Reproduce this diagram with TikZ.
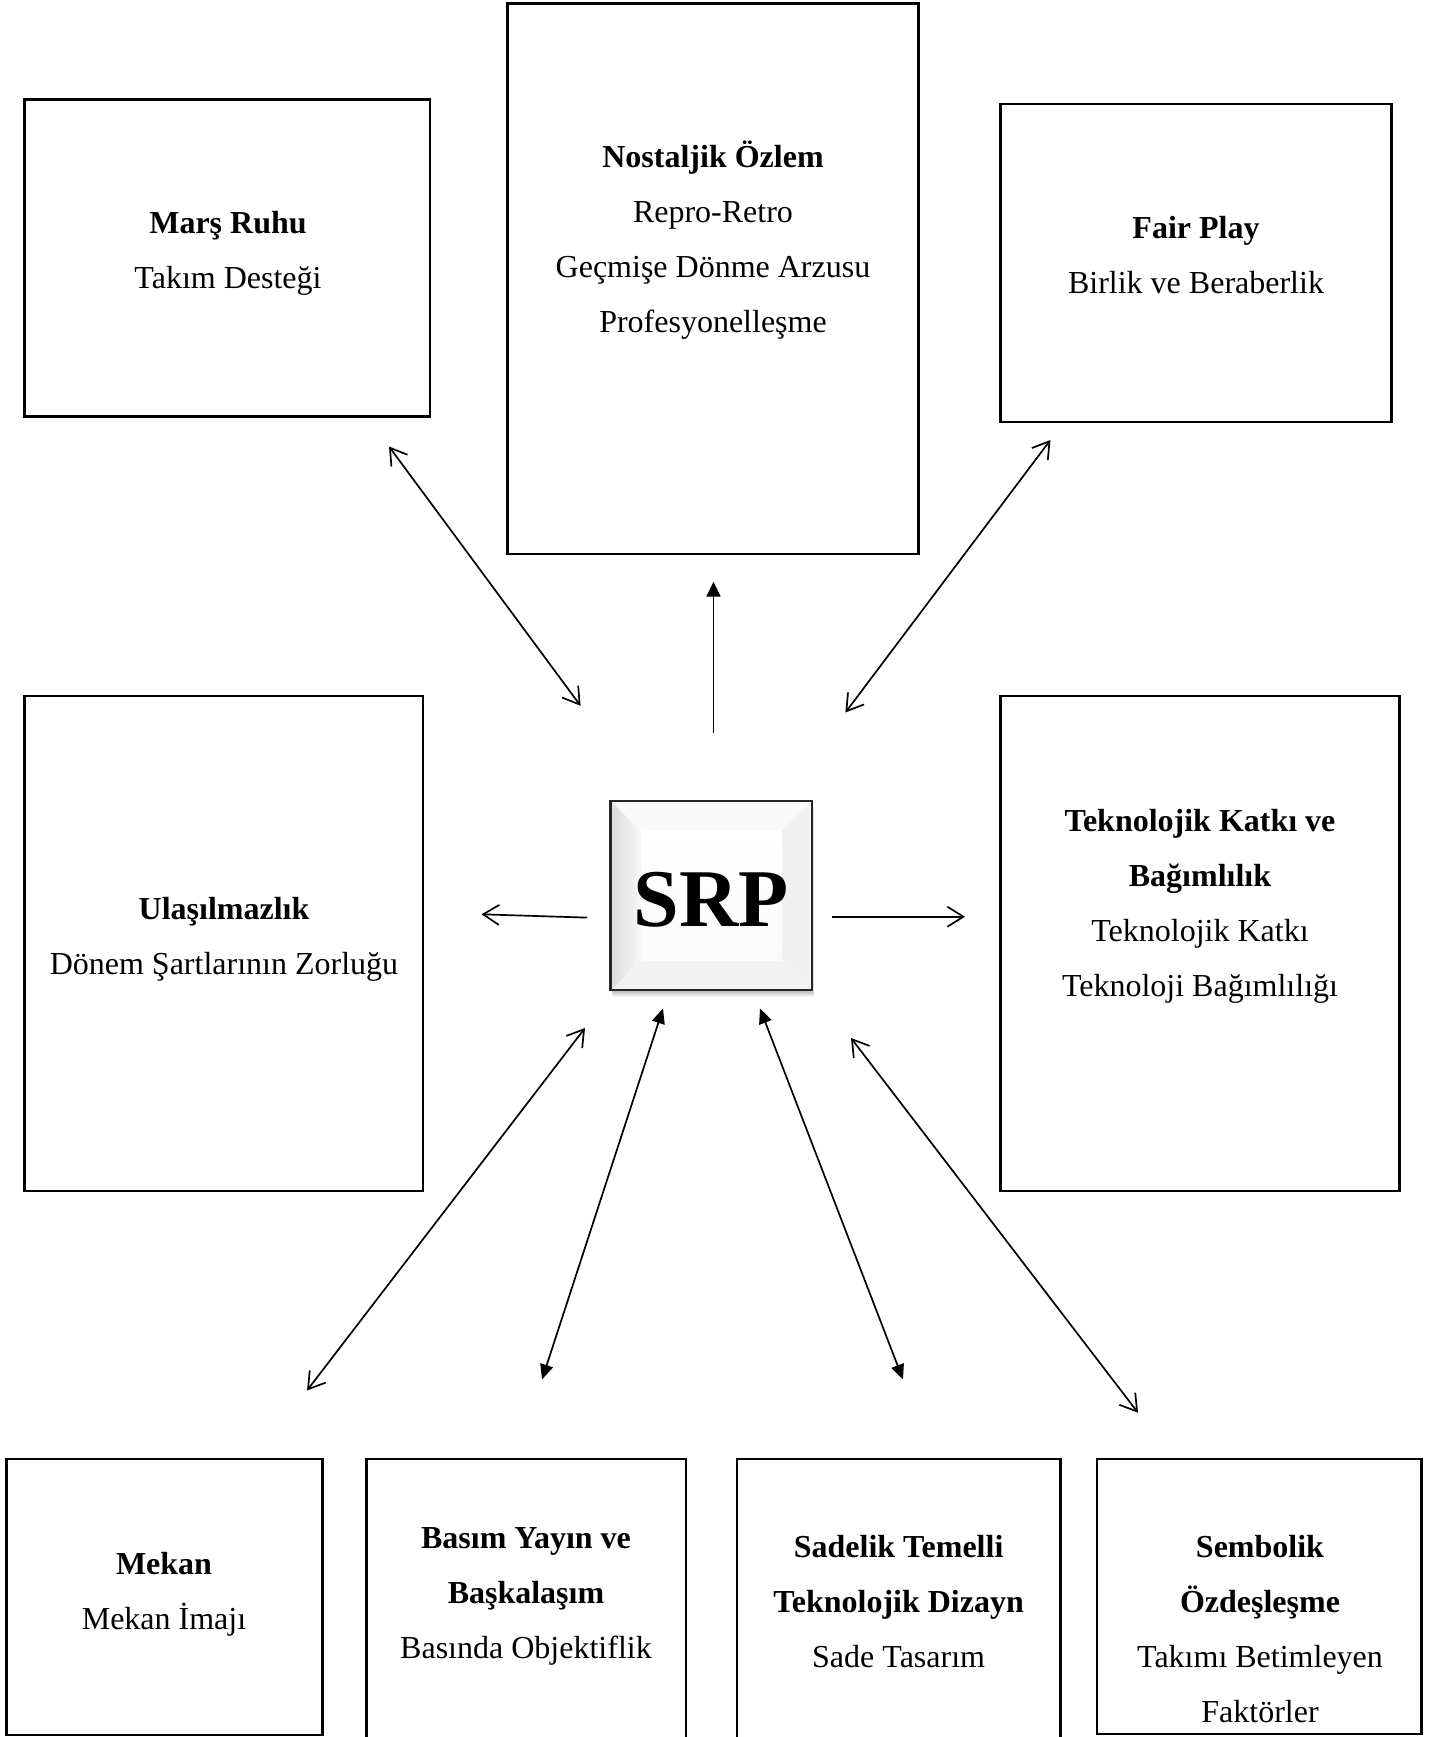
\documentclass[tikz,border=0pt]{standalone}
\usepackage{fontspec}
\setmainfont{Liberation Serif}
\usetikzlibrary{arrows.meta}
\begin{document}
\begin{tikzpicture}[x=1pt, y=-1pt,
  catbox/.style={draw=black, line width=2.6pt, fill=white, inner sep=0pt},
  boxtext/.style={align=center, inner sep=0pt, font=\fontsize{32}{55}\selectfont},
  link/.style={line width=1.7pt, black},
  openbi/.style={link, {Straight Barb[length=16pt,width=20pt]}-{Straight Barb[length=16pt,width=20pt]}},
  openone/.style={link, -{Straight Barb[length=16pt,width=20pt]}},
  filledbi/.style={link, {Triangle[length=15pt,width=13pt]}-{Triangle[length=15pt,width=13pt]}},
  filledone/.style={link, -{Triangle[length=15pt,width=14pt]}}
]
\useasboundingbox (0,0) rectangle (1436,1737);
\fill[white] (0,0) rectangle (1436,1737);

% category boxes
\node[catbox, minimum width=405.6, minimum height=317] (mars) at (227.2,258.2) {};
\node[catbox, minimum width=411, minimum height=550.7] (nost) at (713,278.6) {};
\node[catbox, minimum width=391, minimum height=318] (fair) at (1196,263) {};
\node[catbox, minimum width=398.6, minimum height=495] (ulas) at (223.7,943.5) {};
\node[catbox, minimum width=399, minimum height=495] (tekn) at (1200,943.5) {};
\node[catbox, minimum width=315.8, minimum height=276] (mekan) at (164.5,1597) {};
\node[catbox, minimum width=319.2, minimum height=301] (basim) at (526.3,1609.5) {};
\node[catbox, minimum width=323.6, minimum height=301] (sade) at (898.6,1609.5) {};
\node[catbox, minimum width=324.6, minimum height=275] (semb) at (1259.3,1596.5) {};

% box texts
\node[boxtext] (marsT) at (228,250.4) {\textbf{Marş Ruhu}\strut\\Takım Desteği\strut};
\node[boxtext] (nostT) at (713,238.5) {\textbf{Nostaljik Özlem}\strut\\Repro-Retro\\Geçmişe Dönme Arzusu\\Profesyonelleşme\strut};
\node[boxtext] (fairT) at (1196,255.3) {\textbf{Fair Play}\strut\\Birlik ve Beraberlik\strut};
\node[boxtext] (ulasT) at (224,935.8) {\textbf{Ulaşılmazlık}\strut\\Dönem Şartlarının Zorluğu\strut};
\node[boxtext] (teknT) at (1200,903) {\textbf{Teknolojik Katkı ve}\strut\\\textbf{Bağımlılık}\\Teknolojik Katkı\\Teknoloji Bağımlılığı\strut};
\node[boxtext] (mekanT) at (164,1591) {\textbf{Mekan}\strut\\Mekan İmajı\strut};
\node[boxtext] (basimT) at (526,1592.8) {\textbf{Basım Yayın ve}\strut\\\textbf{Başkalaşım}\\Basında Objektiflik\strut};
\node[boxtext] (sadeT) at (898.6,1601.7) {\textbf{Sadelik Temelli}\strut\\\textbf{Teknolojik Dizayn}\\Sade Tasarım\strut};
\node[boxtext] (sembT) at (1260,1629.4) {\textbf{Sembolik}\strut\\\textbf{Özdeşleşme}\\Takımı Betimleyen\\Faktörler\strut};

% central bevelled button
\coordinate (A) at (610.5,801);
\coordinate (B) at (812,801);
\coordinate (C) at (812,990);
\coordinate (D) at (610.5,990);
\coordinate (a) at (641,831);
\coordinate (b) at (782,831);
\coordinate (c) at (782,960);
\coordinate (d) at (641,960);
\foreach \i in {1,...,7}
  \fill[black, opacity=0.045] (610.5+0.3*\i,801+\i) rectangle (812+0.3*\i,990+\i);
\fill[white] (A) rectangle (C);
\fill[gray!5] (A) -- (B) -- (b) -- (a) -- cycle;
\fill[gray!12] (B) -- (C) -- (c) -- (b) -- cycle;
\fill[gray!10] (C) -- (D) -- (d) -- (c) -- cycle;
\shade[left color=gray!28, right color=gray!6] (D) -- (A) -- (a) -- (d) -- cycle;
\shade[top color=white, bottom color=gray!4] (a) rectangle (c);
\draw[line width=2.4pt, black!85] (A) rectangle (C);
\node[inner sep=0pt, minimum width=201.5, minimum height=189] (srp) at (711.3,895.5) {};
\node[inner sep=0pt, font=\fontsize{82}{82}\selectfont\bfseries] (srpT) at (711,900) {SRP};

% connector end points
\coordinate (e1a) at (580.6,705.8);  \coordinate (e1b) at (389,446.5);
\coordinate (e2a) at (713.5,732.5);  \coordinate (e2b) at (713.5,581.7);
\coordinate (e3a) at (845.4,712.5);  \coordinate (e3b) at (1050.4,440);
\coordinate (e4a) at (587,917.6);    \coordinate (e4b) at (481.5,914.3);
\coordinate (e5a) at (831.7,916.7);  \coordinate (e5b) at (965,916.7);
\coordinate (e6a) at (585,1028);     \coordinate (e6b) at (307,1390.5);
\coordinate (e7a) at (663,1008.5);   \coordinate (e7b) at (542,1379.5);
\coordinate (e8a) at (760,1008.5);   \coordinate (e8b) at (903,1379.5);
\coordinate (e9a) at (851,1038);     \coordinate (e9b) at (1138,1412.7);

% connectors
\draw[openbi] (e1a) -- (e1b);
\draw[filledone] (e2a) -- (e2b);
\draw[openbi] (e3a) -- (e3b);
\draw[openone] (e4a) -- (e4b);
\draw[openone] (e5a) -- (e5b);
\draw[openbi] (e6a) -- (e6b);
\draw[filledbi] (e7a) -- (e7b);
\draw[filledbi] (e8a) -- (e8b);
\draw[openbi] (e9a) -- (e9b);
\end{tikzpicture}
\end{document}
